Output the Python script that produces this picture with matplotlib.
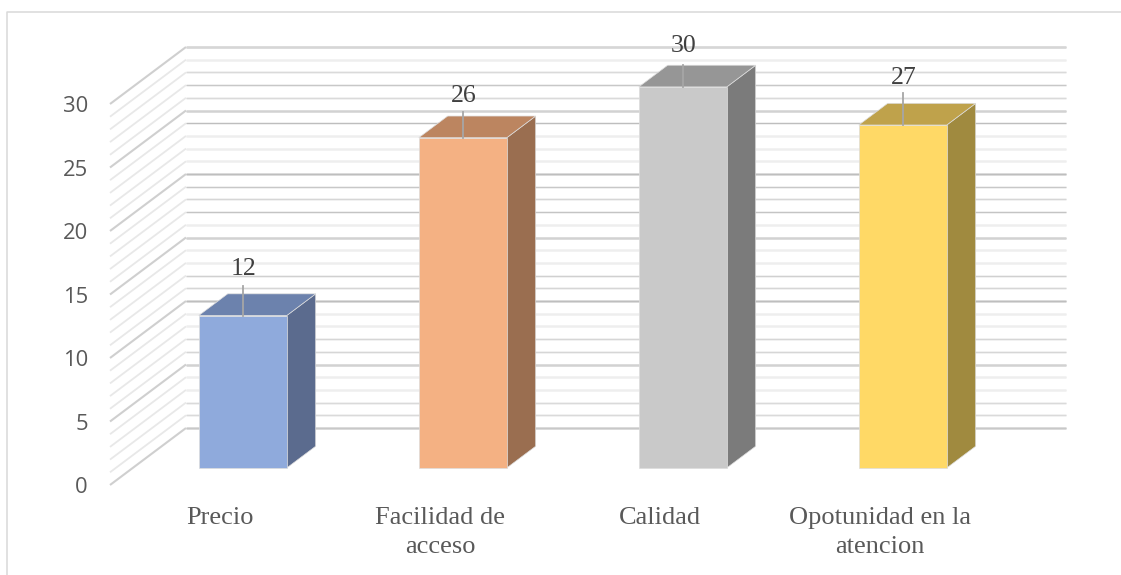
import matplotlib.pyplot as plt
from matplotlib.lines import Line2D
from matplotlib.patches import Polygon

categories = ["Precio", "Facilidad de\nacceso", "Calidad", "Opotunidad en la\natencion"]
values = [12, 26, 30, 27]
value_ticks = [0, 5, 10, 15, 20, 25, 30]

front_colors = ["#8FAADC", "#F4B183", "#C9C9C9", "#FFD966"]
top_colors = ["#6C82AD", "#BC8560", "#969696", "#BFA24B"]
side_colors = ["#5B6B8E", "#9A6E50", "#7B7B7B", "#A08A3F"]

# lift of leader line / data label above the bar top, in value units
leader_lift = [2.35, 2.05, 1.75, 2.5]
label_lift = [3.65, 3.25, 3.2, 3.7]

# thin line tone on the back wall, value 0 to 30
back_tones = ["#C8C8C8", "#DADADA", "#DADADA", "#EEEEEE", "#EEEEEE",
              "#D2D2D2", "#D6D6D6", "#D6D6D6", "#EEEEEE", "#EEEEEE",
              "#BEBEBE", "#D6D6D6", "#D0D0D0", "#EEEEEE", "#EEEEEE",
              "#D2D2D2", "#EEEEEE", "#C4C4C4", "#D6D6D6", "#C8C8C8",
              "#BEBEBE", "#EEEEEE", "#EEEEEE", "#EEEEEE", "#BEBEBE",
              "#D2D2D2", "#DADADA", "#C8C8C8", "#DADADA", "#EEEEEE",
              "#D6D6D6"]

W, H = 1121, 575
PX_X = 220.0    # pixels per category
PX_Y = 12.7     # pixels per value unit
DEPTH_X = 76 / PX_X
DEPTH_Y = 57 / PX_Y
BAR_W = 0.4
Z0, Z1 = 0.3, 0.68


def proj(x, v, z):
    # oblique projection: z=0 is the front edge of the floor, z=1 the back wall
    return x + DEPTH_X * z, v + DEPTH_Y * z


fig = plt.figure(figsize=(W / 100, H / 100), dpi=100, facecolor="white")
ax = fig.add_axes([0, 0, 1, 1])
ax.set_xlim(-0.5 - 110 / PX_X, -0.5 + (W - 110) / PX_X)
ax.set_ylim(-(H - 485) / PX_Y, 485 / PX_Y)
ax.axis("off")

# chart frame, bottom and right are cut by the picture
fig.add_artist(Line2D([6.5 / W, 6.5 / W, 1], [0, 1 - 12 / H, 1 - 12 / H],
                      color="#D9D9D9", lw=1.1))

# gridlines on side wall and back wall
for v in range(0, 31):
    major = v % 5 == 0
    p0, p1, p2 = proj(-0.5, v, 0), proj(-0.5, v, 1), proj(3.5, v, 1)
    ax.plot([p0[0], p1[0]], [p0[1], p1[1]], color="#CFCFCF" if major else "#E8E8E8",
            lw=1.5 if major else 1.3, zorder=1, solid_capstyle="butt")
    ax.plot([p1[0], p2[0]], [p1[1], p2[1]], color="#D2D2D2" if major else "#F0F0F0",
            lw=1.8, zorder=1, solid_capstyle="butt")
    ax.plot([p1[0], p2[0]], [p1[1], p2[1]], color=back_tones[v], lw=0.8, zorder=2,
            solid_capstyle="butt")

for v in value_ticks:
    ax.text(-0.5 - 22 / PX_X, v - 0.2, str(v), ha="right", va="center", fontsize=15.8,
            family="Open Sans", color="#595959")

# bars
for i, val in enumerate(values):
    xl, xr = i - BAR_W / 2, i + BAR_W / 2
    center = proj(i, val, Z0)[0]
    front = [proj(xl, 0, Z0), proj(xr, 0, Z0), proj(xr, val, Z0), proj(xl, val, Z0)]
    top = [proj(xl, val, Z0), proj(xr, val, Z0), proj(xr, val, Z1), proj(xl, val, Z1)]
    side = [proj(xr, 0, Z0), proj(xr, 0, Z1), proj(xr, val, Z1), proj(xr, val, Z0)]
    ax.add_patch(Polygon(side, facecolor=side_colors[i], edgecolor="#DDDDDD", lw=0.5, zorder=3))
    ax.add_patch(Polygon(top, facecolor=top_colors[i], edgecolor="#DDDDDD", lw=0.5, zorder=3))
    ax.add_patch(Polygon(front, facecolor=front_colors[i], edgecolor="#DDDDDD", lw=0.5, zorder=3))

    base_v = proj(i, val, Z0)[1]
    ax.plot([center, center], [base_v, base_v + leader_lift[i]], color="#A6A6A6", lw=1.3, zorder=4)
    ax.text(center + 1 / PX_X, base_v + label_lift[i], str(val), ha="center", va="center", fontsize=18.5,
            family="Liberation Serif", color="#404040", zorder=5)

    ax.text(i, -1.75, categories[i], ha="center", va="top", fontsize=19,
            family="Liberation Serif", color="#595959", linespacing=1.42)

plt.savefig("out.png", dpi=100)
plt.close()
